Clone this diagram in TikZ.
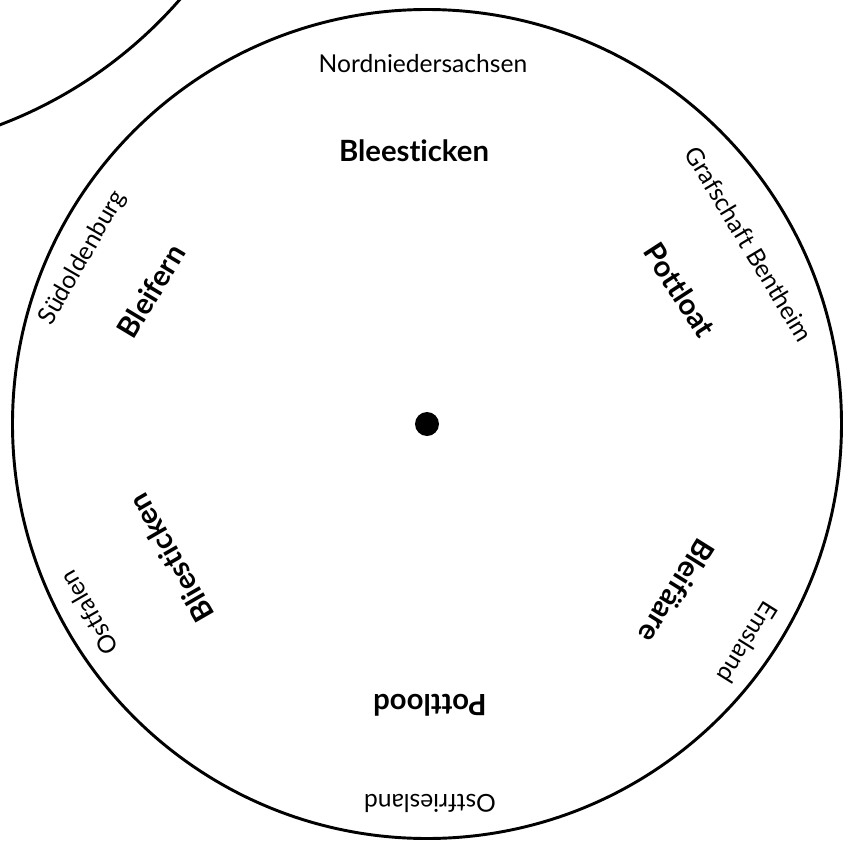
\documentclass[tikz,border=0pt]{standalone}
\usepackage{fontspec}
\setmainfont{Lato}[Ligatures={NoCommon,NoRequired}]
\usetikzlibrary{positioning}
\tikzset{
  every picture/.style={line width=2.5pt},
  wheelrim/.style={draw=black, line width=2.5pt},
  region/.style={font=\fontsize{21}{25}\selectfont, inner sep=0pt},
  word/.style={font=\fontsize{25}{30}\selectfont\bfseries, inner sep=0pt},
  hub/.style={circle, fill=black, minimum size=24*0.3mm, inner sep=0pt},
}

\begin{document}
\begin{tikzpicture}[x=0.3mm, y=0.3mm]
  \useasboundingbox (-427,-418) rectangle (426,424);
  % second wheel behind, top left corner
  \begin{scope}
    \clip (-427,-418) rectangle (426,424);
    \draw[wheelrim] (-587,721) circle (451);
  \end{scope}
  % wheel and hub
  \draw[wheelrim] (0,0) circle (414.5);
  \node[hub] (hub) at (0,0) {};
  % outer ring: regions
  \foreach \x/\y/\r/\t/\n in {-4/360/0/Nordniedersachsen/nord,
      322/180/-59/Grafschaft Bentheim/graf,
      321/-219/-122/Emsland/ems,
      3/-379/180/Ostfriesland/ostfr,
      -338/-189/120/Ostfalen/ostfa,
      -344/166/60/Südoldenburg/sued}{
    \node[region, rotate=\r] (\n) at (\x,\y) {\t};
  }
  % inner ring: words
  \foreach \x/\y/\r/\t/\n in {-13/273/0/Bleesticken/w1,
      253/134/-57/Pottloat/w2,
      250/-167/-122/Bleifäare/w3,
      3/-281/180/Pottlood/w4,
      -256/-134/120/Bliesticken/w5,
      -276/133/59/Bleifern/w6}{
    \node[word, rotate=\r] (\n) at (\x,\y) {\t};
  }
\end{tikzpicture}
\end{document}
